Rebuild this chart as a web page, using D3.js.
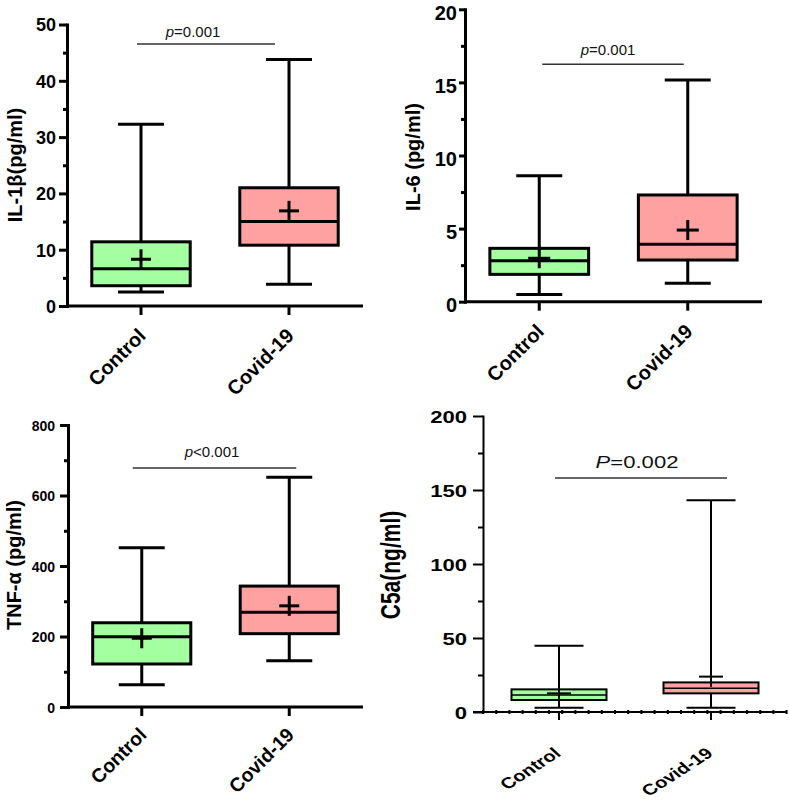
<!DOCTYPE html>
<html>
<head>
<meta charset="utf-8">
<script src="https://cdn.jsdelivr.net/npm/d3@7"></script>
<style>
  html, body { margin: 0; padding: 0; background: #fff; }
  svg { display: block; font-family: "Liberation Sans", Arial, sans-serif; }
</style>
</head>
<body>
<svg id="chart" width="790" height="800"></svg>
<script>
// ---------------- DATA ----------------
const categories = ["Control", "Covid-19"];
// stat order: [min, q1, median, q3, max, mean]
const il1bControl = [2.5, 3.6, 6.6, 11.4, 32.3, 8.3];
const il1bCovid   = [3.85, 10.8, 15.0, 21.0, 43.8, 16.9];
const il6Control  = [0.5, 1.87, 2.8, 3.65, 8.62, 2.97];
const il6Covid    = [1.26, 2.85, 3.93, 7.3, 15.16, 4.9];
const tnfControl  = [63, 122, 199, 239, 452, 195];
const tnfCovid    = [131, 208, 269, 343, 652, 287];
const c5aControl  = [2.9, 8.1, 11.5, 15.3, 44.8, 12.6];
const c5aCovid    = [2.9, 12.6, 16.0, 20.0, 143, 23.9];

const il1bTicks = [0, 10, 20, 30, 40, 50];
const il6Ticks  = [0, 5, 10, 15, 20];
const tnfTicks  = [0, 200, 400, 600, 800];
const c5aTicks  = [0, 50, 100, 150, 200];

const yTitles = ["IL-1β(pg/ml)", "IL-6 (pg/ml)", "TNF-α (pg/ml)", "C5a(ng/ml)"];
const pLetters = ["p", "p", "p", "P"];
const pRests   = ["=0.001", "=0.001", "<0.001", "=0.002"];

const fills = ["#a3ff9f", "#ffa1a1"];

// ---------------- DRAW ----------------
const svg = d3.select("#chart");
const FONT = '"Liberation Sans", Arial, sans-serif';

function toStats(arr) {
  return { min: arr[0], q1: arr[1], median: arr[2], q3: arr[3], max: arr[4], mean: arr[5] };
}

const panels = [
  { data: [il1bControl, il1bCovid], ticks: il1bTicks, title: 0,
    xl: 67, xr: 363, yTop: 24.5, yBot: 306, sw: 3, sx: 1,
    tickFont: 18, tickDy: "0.36em", tickLen: 8, tickPad: 3, minorLen: 4,
    titleX: 22, titleY: 165, titleFont: 20,
    pX: 193, pY: 37, pFont: 15, lineY: 44, lineL: -4, lineR: -14,
    xlabFont: 20, xlabRot: -45, xlabDx: 6, xlabDy: 31,
    boxFrac: 0.665, capW: 46, plus: 20, plusH: 20, dots: false, axisLeftExt: 0 },
  { data: [il6Control, il6Covid], ticks: il6Ticks, title: 1,
    xl: 465, xr: 762, yTop: 9.3, yBot: 301.7, sw: 3, sx: 1,
    tickFont: 20, tickDy: "0.5em", tickLen: 6, tickPad: 2, minorLen: 4,
    titleX: 420, titleY: 157, titleFont: 20,
    pX: 608, pY: 55, pFont: 15, lineY: 64.3, lineL: 3, lineR: -4,
    xlabFont: 20, xlabRot: -45, xlabDx: 6, xlabDy: 31,
    boxFrac: 0.665, capW: 46, plus: 22, plusH: 20, dots: false, axisLeftExt: 0 },
  { data: [tnfControl, tnfCovid], ticks: tnfTicks, title: 2,
    xl: 68, xr: 363, yTop: 425, yBot: 707, sw: 3, sx: 1,
    tickFont: 14, tickDy: "0.36em", tickLen: 8, tickPad: 5, minorLen: 4,
    titleX: 21, titleY: 565, titleFont: 20,
    pX: 212, pY: 457, pFont: 15, lineY: 468, lineL: -9, lineR: 7,
    xlabFont: 19.5, xlabRot: -45, xlabDx: 6, xlabDy: 29,
    boxFrac: 0.665, capW: 46, plus: 20, plusH: 20, dots: false, axisLeftExt: 0 },
  { data: [c5aControl, c5aCovid], ticks: c5aTicks, title: 3,
    xl: 483, xr: 787, yTop: 416, yBot: 712, sw: 2, sx: 1.3,
    tickFont: 17, tickDy: "0.36em", tickLen: 10, tickPad: 6, minorLen: 5,
    titleX: 400, titleY: 565, titleFont: 21,
    pX: 637, pY: 468, pFont: 17, lineY: 478, lineL: -4, lineR: 16,
    xlabFont: 15.5, xlabRot: -40, xlabDx: 3, xlabDy: 43,
    boxFrac: 0.625, capW: 49, plus: 24, plusH: 20, dots: true, axisLeftExt: 10 }
];

panels.forEach(cfg => {
  const g = svg.append("g");
  const top = cfg.ticks[cfg.ticks.length - 1];
  const y = d3.scaleLinear().domain([0, top]).range([cfg.yBot, cfg.yTop]);
  const x = d3.scaleBand().domain(categories).range([cfg.xl, cfg.xr]).padding(0);
  const cx = c => x(c) + x.bandwidth() / 2;
  const boxW = x.bandwidth() * cfg.boxFrac;

  // minor ticks (midpoints of majors)
  const step = cfg.ticks[1] - cfg.ticks[0];
  const minors = cfg.ticks.slice(0, -1).map(t => t + step / 2);
  g.append("g")
    .attr("transform", `translate(${cfg.xl},0)`)
    .call(d3.axisLeft(y).tickValues(minors).tickSize(cfg.minorLen).tickFormat(""))
    .call(a => a.select(".domain").remove())
    .call(a => a.selectAll("line").attr("stroke", "#000").attr("stroke-width", cfg.sw));

  // y axis
  const ya = g.append("g")
    .attr("transform", `translate(${cfg.xl},0)`)
    .call(d3.axisLeft(y).tickValues(cfg.ticks).tickSize(cfg.tickLen).tickSizeOuter(0).tickPadding(cfg.tickPad));
  ya.select(".domain").attr("stroke", "#000").attr("stroke-width", cfg.sw).attr("stroke-linecap", "square");
  ya.selectAll("line").attr("stroke", "#000").attr("stroke-width", cfg.sw);
  ya.selectAll("text")
    .attr("fill", "#000")
    .attr("font-family", FONT)
    .attr("font-weight", "bold")
    .attr("font-size", cfg.tickFont)
    .attr("dy", cfg.tickDy)
    .each(function () {
      const t = d3.select(this);
      const ax = +t.attr("x");
      t.attr("x", 0).attr("transform", `translate(${ax},0) scale(${cfg.sx},1)`);
    });

  // x axis
  const xa = g.append("g")
    .attr("transform", `translate(0,${cfg.yBot})`)
    .call(d3.axisBottom(x).tickSize(cfg.sw === 3 ? 9 : 8).tickSizeOuter(0).tickFormat(""));
  xa.select(".domain").attr("stroke", "#000").attr("stroke-width", cfg.sw)
    .attr("d", `M${cfg.xl - cfg.axisLeftExt},0H${cfg.xr}`);
  xa.selectAll("line").attr("stroke", "#000").attr("stroke-width", cfg.sw);

  if (cfg.dots) {
    const dotXs = d3.range(cfg.xl, 790, 13.2);
    g.append("g").selectAll("line").data(dotXs).join("line")
      .attr("x1", d => d).attr("x2", d => d)
      .attr("y1", cfg.yBot - 2).attr("y2", cfg.yBot + 2)
      .attr("stroke", "#000").attr("stroke-width", 2);
  }

  // x labels
  g.append("g").selectAll("text").data(categories).join("text")
    .attr("transform", d => `translate(${cx(d) + cfg.xlabDx},${cfg.yBot + cfg.xlabDy}) scale(${cfg.sx},1) rotate(${cfg.xlabRot})`)
    .attr("text-anchor", "end")
    .attr("font-family", FONT)
    .attr("font-weight", "bold")
    .attr("font-size", cfg.xlabFont)
    .attr("fill", "#000")
    .text(d => d);

  // y title
  g.append("text")
    .attr("transform", `translate(${cfg.titleX},${cfg.titleY}) scale(${cfg.sx},1) rotate(-90)`)
    .attr("text-anchor", "middle")
    .attr("font-family", FONT)
    .attr("font-weight", "bold")
    .attr("font-size", cfg.titleFont)
    .attr("fill", "#000")
    .text(yTitles[cfg.title]);

  // p-value annotation
  g.append("line")
    .attr("x1", cx(categories[0]) + cfg.lineL).attr("x2", cx(categories[1]) + cfg.lineR)
    .attr("y1", cfg.lineY).attr("y2", cfg.lineY)
    .attr("stroke", "#333").attr("stroke-width", 1.5);
  const pt = g.append("text")
    .attr("transform", `translate(${cfg.pX},${cfg.pY}) scale(${cfg.sx},1)`)
    .attr("text-anchor", "middle")
    .attr("font-family", FONT)
    .attr("font-size", cfg.pFont)
    .attr("fill", "#111");
  pt.append("tspan").attr("font-style", "italic").text(pLetters[cfg.title]);
  pt.append("tspan").text(pRests[cfg.title]);

  // boxes
  const stats = cfg.data.map(toStats);
  const bg = g.append("g").selectAll("g").data(stats).join("g");
  const ci = (d, i) => cx(categories[i]);
  const line = (sel) => sel.attr("stroke", "#000").attr("stroke-width", cfg.sw);

  // whiskers
  bg.append("line").attr("x1", ci).attr("x2", ci)
    .attr("y1", d => y(d.max)).attr("y2", d => y(d.q3)).call(line);
  bg.append("line").attr("x1", ci).attr("x2", ci)
    .attr("y1", d => y(d.q1)).attr("y2", d => y(d.min)).call(line);
  // caps
  bg.append("line").attr("x1", (d, i) => ci(d, i) - cfg.capW / 2).attr("x2", (d, i) => ci(d, i) + cfg.capW / 2)
    .attr("y1", d => y(d.max)).attr("y2", d => y(d.max)).call(line);
  bg.append("line").attr("x1", (d, i) => ci(d, i) - cfg.capW / 2).attr("x2", (d, i) => ci(d, i) + cfg.capW / 2)
    .attr("y1", d => y(d.min)).attr("y2", d => y(d.min)).call(line);
  // box
  bg.append("rect")
    .attr("x", (d, i) => ci(d, i) - boxW / 2).attr("width", boxW)
    .attr("y", d => y(d.q3)).attr("height", d => y(d.q1) - y(d.q3))
    .attr("fill", (d, i) => fills[i]).call(line);
  // median
  bg.append("line").attr("x1", (d, i) => ci(d, i) - boxW / 2).attr("x2", (d, i) => ci(d, i) + boxW / 2)
    .attr("y1", d => y(d.median)).attr("y2", d => y(d.median))
    .attr("stroke", "#000").attr("stroke-width", cfg.sw === 3 ? 3 : 1.5);
  // mean plus
  bg.append("line").attr("x1", (d, i) => ci(d, i) - cfg.plus / 2).attr("x2", (d, i) => ci(d, i) + cfg.plus / 2)
    .attr("y1", d => y(d.mean)).attr("y2", d => y(d.mean)).call(line);
  bg.append("line").attr("x1", ci).attr("x2", ci)
    .attr("y1", d => y(d.mean) - cfg.plusH / 2).attr("y2", d => y(d.mean) + cfg.plusH / 2).call(line);
});
</script>
</body>
</html>
